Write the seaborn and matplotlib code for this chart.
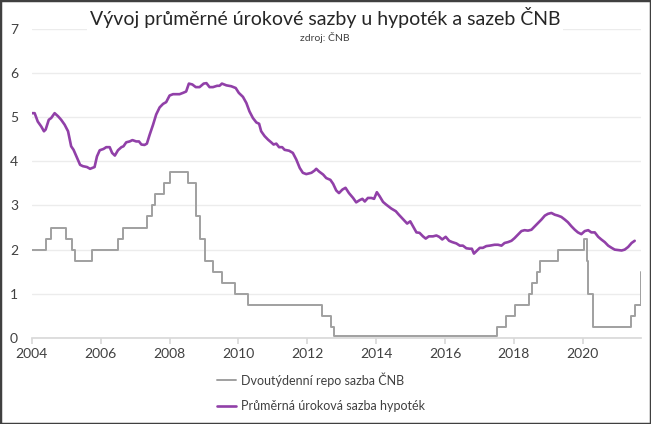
import pandas as pd
import numpy as np
import matplotlib
matplotlib.use("Agg")
import matplotlib.pyplot as plt
import seaborn as sns

# Průměrná úroková sazba hypoték
hypo_roky = [2004.00, 2004.08, 2004.17, 2004.27, 2004.35, 2004.40, 2004.49, 2004.56, 2004.66, 2004.76,
             2004.85, 2004.95, 2005.05, 2005.14, 2005.21, 2005.31, 2005.40, 2005.48, 2005.60, 2005.69,
             2005.82, 2005.89, 2005.97, 2006.08, 2006.16, 2006.26, 2006.33, 2006.41, 2006.50, 2006.60,
             2006.66, 2006.74, 2006.84, 2006.92, 2007.03, 2007.11, 2007.18, 2007.27, 2007.34, 2007.42,
             2007.52, 2007.61, 2007.71, 2007.81, 2007.90, 2008.00, 2008.10, 2008.19, 2008.29, 2008.39,
             2008.48, 2008.56, 2008.66, 2008.76, 2008.87, 2008.99, 2009.07, 2009.16, 2009.26, 2009.38,
             2009.45, 2009.52, 2009.65, 2009.79, 2009.92, 2010.01, 2010.13, 2010.23, 2010.32, 2010.42,
             2010.52, 2010.60, 2010.66, 2010.76, 2010.86, 2010.95, 2011.02, 2011.10, 2011.18, 2011.27,
             2011.34, 2011.47, 2011.58, 2011.68, 2011.78, 2011.87, 2011.97, 2012.12, 2012.21, 2012.26,
             2012.34, 2012.46, 2012.55, 2012.67, 2012.75, 2012.84, 2012.92, 2013.02, 2013.11, 2013.21,
             2013.33, 2013.42, 2013.52, 2013.60, 2013.67, 2013.76, 2013.86, 2013.94, 2014.02, 2014.10,
             2014.20, 2014.29, 2014.44, 2014.57, 2014.66, 2014.78, 2014.90, 2014.99, 2015.07, 2015.17,
             2015.26, 2015.36, 2015.44, 2015.53, 2015.65, 2015.75, 2015.83, 2015.92, 2016.02, 2016.12,
             2016.21, 2016.33, 2016.43, 2016.52, 2016.62, 2016.72, 2016.78, 2016.84, 2016.93, 2017.01,
             2017.10, 2017.20, 2017.30, 2017.44, 2017.54, 2017.64, 2017.73, 2017.83, 2017.93, 2018.02,
             2018.12, 2018.22, 2018.31, 2018.41, 2018.51, 2018.61, 2018.70, 2018.80, 2018.90, 2018.99,
             2019.09, 2019.19, 2019.28, 2019.38, 2019.48, 2019.57, 2019.67, 2019.77, 2019.86, 2019.96,
             2020.06, 2020.16, 2020.25, 2020.35, 2020.45, 2020.54, 2020.64, 2020.74, 2020.84, 2020.93,
             2021.03, 2021.13, 2021.22, 2021.32, 2021.42, 2021.51]
hypo_sazba = [5.09, 5.09, 4.90, 4.79, 4.68, 4.72, 4.94, 4.98, 5.09, 5.02,
              4.94, 4.83, 4.68, 4.34, 4.26, 4.08, 3.92, 3.89, 3.87, 3.83,
              3.87, 4.11, 4.25, 4.28, 4.32, 4.32, 4.19, 4.13, 4.25, 4.32,
              4.34, 4.43, 4.45, 4.48, 4.45, 4.45, 4.38, 4.37, 4.40, 4.60,
              4.83, 5.06, 5.22, 5.30, 5.34, 5.49, 5.52, 5.52, 5.52, 5.55,
              5.58, 5.76, 5.74, 5.68, 5.68, 5.76, 5.77, 5.68, 5.68, 5.71,
              5.71, 5.76, 5.72, 5.70, 5.66, 5.55, 5.46, 5.32, 5.13, 4.98,
              4.88, 4.85, 4.68, 4.57, 4.49, 4.43, 4.38, 4.40, 4.32, 4.32,
              4.26, 4.24, 4.19, 4.04, 3.85, 3.74, 3.71, 3.74, 3.79, 3.83,
              3.77, 3.70, 3.62, 3.58, 3.49, 3.34, 3.28, 3.36, 3.40, 3.28,
              3.17, 3.07, 3.12, 3.15, 3.09, 3.17, 3.17, 3.15, 3.30, 3.21,
              3.08, 3.02, 2.93, 2.87, 2.79, 2.69, 2.59, 2.64, 2.53, 2.39,
              2.38, 2.30, 2.25, 2.30, 2.30, 2.32, 2.29, 2.23, 2.29, 2.20,
              2.17, 2.14, 2.09, 2.09, 2.03, 2.02, 2.02, 1.91, 1.98, 2.04,
              2.04, 2.08, 2.09, 2.11, 2.11, 2.09, 2.15, 2.17, 2.20, 2.26,
              2.34, 2.42, 2.44, 2.43, 2.45, 2.53, 2.60, 2.68, 2.77, 2.81,
              2.83, 2.79, 2.77, 2.74, 2.68, 2.62, 2.53, 2.45, 2.39, 2.35,
              2.42, 2.44, 2.39, 2.39, 2.29, 2.23, 2.17, 2.09, 2.04, 2.00,
              1.99, 1.98, 2.00, 2.06, 2.15, 2.20]

# Dvoutýdenní repo sazba ČNB - okamžiky změn
repo_roky = [2004.00, 2004.40, 2004.56, 2005.00, 2005.17, 2005.25, 2005.75, 2006.50, 2006.66, 2007.33,
             2007.49, 2007.58, 2007.85, 2008.02, 2008.53, 2008.78, 2008.87, 2009.02, 2009.26, 2009.52,
             2009.89, 2010.28, 2012.42, 2012.70, 2012.78, 2017.52, 2017.76, 2018.02, 2018.43, 2018.53,
             2018.67, 2018.77, 2019.28, 2020.04, 2020.12, 2020.16, 2020.30, 2021.41, 2021.52, 2021.68]
repo_sazba = [2.00, 2.25, 2.50, 2.25, 2.00, 1.75, 2.00, 2.25, 2.50, 2.75,
              3.00, 3.25, 3.50, 3.75, 3.50, 2.75, 2.25, 1.75, 1.50, 1.25,
              1.00, 0.75, 0.50, 0.25, 0.05, 0.25, 0.50, 0.75, 1.00, 1.25,
              1.50, 1.75, 2.00, 2.25, 1.75, 1.00, 0.25, 0.50, 0.75, 1.50]

roky_ticks = [2004, 2006, 2008, 2010, 2012, 2014, 2016, 2018, 2020]

df_hypo = pd.DataFrame({'rok': hypo_roky, 'sazba': hypo_sazba})
df_repo = pd.DataFrame({'rok': repo_roky, 'sazba': repo_sazba})

sns.set_theme(style='white')
plt.rcParams['font.family'] = ['Lato', 'DejaVu Sans']

fig = plt.figure(figsize=(6.51, 4.24), dpi=100)
ax = fig.add_axes([0.049, 0.203, 0.936, 0.729])

sns.lineplot(data=df_repo, x='rok', y='sazba', ax=ax, color='#a0a0a0', linewidth=1.4,
             drawstyle='steps-post', label='Dvoutýdenní repo sazba ČNB')
sns.lineplot(data=df_hypo, x='rok', y='sazba', ax=ax, color='#9140a8', linewidth=1.9,
             label='Průměrná úroková sazba hypoték')

ax.set_xlim(2004, 2021.7)
ax.set_ylim(0, 7)
ax.set_xticks(roky_ticks)
ax.set_yticks(range(0, 8))
ax.set_xlabel('')
ax.set_ylabel('')
ax.grid(axis='y', color='#ececec', linewidth=1)
ax.set_axisbelow(True)
for s in ['top', 'right', 'left']:
    ax.spines[s].set_visible(False)
ax.spines['bottom'].set_color('#d9d9d9')
ax.tick_params(axis='x', bottom=True, length=4, color='#d9d9d9', labelsize=10, labelcolor='#404040', pad=3)
ax.tick_params(axis='y', left=False, length=0, labelsize=10, labelcolor='#404040', pad=10)

leg = ax.legend(loc='upper center', bbox_to_anchor=(0.474, -0.075), frameon=False, fontsize=9,
                handlelength=1.5, labelspacing=1.05, handletextpad=0.4)
for t in leg.get_texts():
    t.set_color('#404040')

fig.text(0.499, 0.958, 'Vývoj průměrné úrokové sazby u hypoték a sazeb ČNB', ha='center', va='center',
         fontsize=14, color='#262626', bbox=dict(facecolor='white', edgecolor='none', pad=2))
fig.text(0.499, 0.911, 'zdroj: ČNB', ha='center', va='center', fontsize=7.5, color='#404040')

# tmavý rámeček kolem obrázku
fig.add_artist(plt.Rectangle((0, 0), 1, 1, transform=fig.transFigure, fill=False,
                             edgecolor='#404040', linewidth=2.5))

fig.savefig('out.png', dpi=100)
